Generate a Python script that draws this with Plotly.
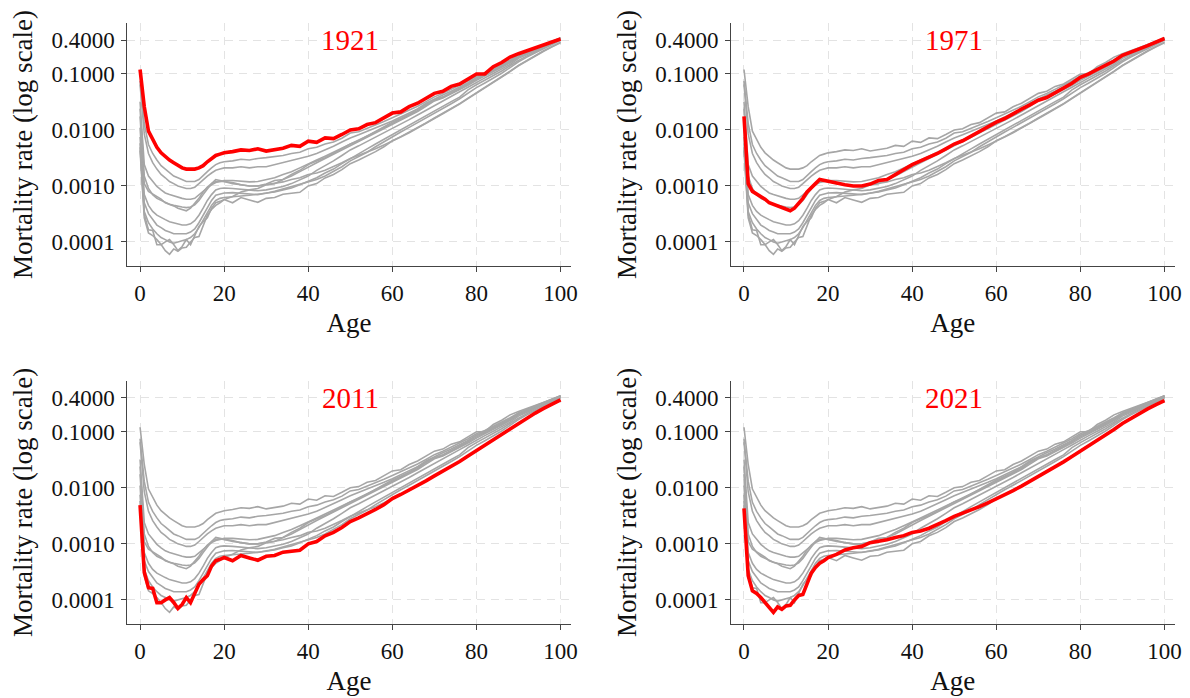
import math
import plotly.graph_objects as go

# ---------------- data ----------------
AGES = list(range(0, 21)) + list(range(22, 101, 2))

Q1921 = [0.12, 0.026, 0.0095, 0.0066, 0.0049, 0.0039, 0.0033, 0.0029, 0.0026, 0.0023, 0.0021,
         0.0020, 0.0020, 0.0020, 0.0021, 0.0023, 0.0027, 0.0031, 0.0035, 0.0037, 0.0039,
         0.0041, 0.0044, 0.0043, 0.0046, 0.0042, 0.0045, 0.0047, 0.0053, 0.0051, 0.0063,
         0.0060, 0.0072, 0.0070, 0.0083, 0.0100, 0.0105, 0.0125, 0.0135, 0.0165, 0.0200,
         0.0210, 0.0260, 0.0300, 0.0370, 0.0450, 0.0490, 0.0600, 0.0660, 0.0820, 0.1000,
         0.1000, 0.1350, 0.1600, 0.2000, 0.2300, 0.2600, 0.3000, 0.3400, 0.3800, 0.4200]
Q1931 = [0.075, 0.013, 0.0055, 0.0038, 0.0029, 0.0023, 0.0020, 0.0017, 0.0015, 0.0014, 0.0013,
         0.0012, 0.0012, 0.0012, 0.0013, 0.0015, 0.0018, 0.0021, 0.0024, 0.0026, 0.0027,
         0.0028, 0.0030, 0.0029, 0.0031, 0.0032, 0.0033, 0.0035, 0.0038, 0.0040, 0.0046,
         0.0049, 0.0056, 0.0061, 0.0071, 0.0088, 0.0093, 0.0106, 0.0121, 0.0142, 0.0165,
         0.0192, 0.0225, 0.0265, 0.0320, 0.0390, 0.0450, 0.0530, 0.0620, 0.0750, 0.0920,
         0.1050, 0.1250, 0.1480, 0.1780, 0.2150, 0.2500, 0.2900, 0.3350, 0.3850, 0.4400]
Q1941 = [0.065, 0.0085, 0.0038, 0.0026, 0.0020, 0.0016, 0.0014, 0.0012, 0.0011, 0.0010, 0.00095,
         0.0009, 0.0009, 0.00095, 0.0011, 0.0013, 0.0015, 0.0017, 0.0019, 0.0020, 0.0021,
         0.0021, 0.0022, 0.0021, 0.0022, 0.0022, 0.0024, 0.0026, 0.0028, 0.0031, 0.0034,
         0.0038, 0.0044, 0.0051, 0.0061, 0.0072, 0.0082, 0.0094, 0.0108, 0.0125, 0.0145,
         0.0170, 0.0200, 0.0238, 0.0300, 0.0360, 0.0420, 0.0490, 0.0580, 0.0700, 0.0860,
         0.0990, 0.1180, 0.1400, 0.1680, 0.2100, 0.2400, 0.2800, 0.3250, 0.3800, 0.4400]
Q1951 = [0.032, 0.0024, 0.0015, 0.0012, 0.00098, 0.00085, 0.00075, 0.0007, 0.00066, 0.00063, 0.0006,
         0.00058, 0.00058, 0.0006, 0.00068, 0.0008, 0.00092, 0.00105, 0.00115, 0.0012, 0.00125,
         0.00125, 0.0012, 0.00118, 0.0012, 0.0013, 0.0014, 0.0016, 0.0018, 0.0021, 0.0025,
         0.0029, 0.0034, 0.0040, 0.0047, 0.0056, 0.0066, 0.0078, 0.0092, 0.0110, 0.0130,
         0.0155, 0.0185, 0.0220, 0.0285, 0.0340, 0.0390, 0.0460, 0.0540, 0.0660, 0.0810,
         0.0950, 0.1130, 0.1350, 0.1620, 0.2050, 0.2350, 0.2750, 0.3200, 0.3750, 0.4300]
Q1961 = [0.024, 0.0015, 0.0009, 0.0007, 0.0006, 0.00055, 0.0005, 0.00047, 0.00045, 0.00043, 0.00042,
         0.00041, 0.00042, 0.00046, 0.00055, 0.0007, 0.0009, 0.0011, 0.0012, 0.00122, 0.0012,
         0.0011, 0.00105, 0.0010, 0.0010, 0.00105, 0.0011, 0.0013, 0.0015, 0.0018, 0.0022,
         0.0026, 0.0031, 0.0037, 0.0044, 0.0053, 0.0063, 0.0075, 0.0089, 0.0106, 0.0126,
         0.0150, 0.0178, 0.0212, 0.0265, 0.0330, 0.0370, 0.0440, 0.0520, 0.0630, 0.0770,
         0.0910, 0.1090, 0.1310, 0.1580, 0.2000, 0.2300, 0.2700, 0.3150, 0.3700, 0.4300]
Q1971 = [0.0175, 0.0011, 0.0008, 0.00072, 0.00064, 0.00058, 0.0005, 0.00047, 0.00044, 0.0004, 0.00038,
         0.00036, 0.0004, 0.00048, 0.0006, 0.00078, 0.00095, 0.0011, 0.0013, 0.00125, 0.0012,
         0.00115, 0.00105, 0.0010, 0.0010, 0.00108, 0.00125, 0.0013, 0.0016, 0.0019, 0.0024,
         0.0028, 0.0032, 0.0038, 0.0046, 0.0056, 0.0064, 0.0078, 0.0093, 0.0112, 0.0138,
         0.0160, 0.0190, 0.0235, 0.0280, 0.0340, 0.0380, 0.0460, 0.0550, 0.0680, 0.0870,
         0.1000, 0.1200, 0.1450, 0.1700, 0.2150, 0.2500, 0.2800, 0.3200, 0.3700, 0.4300]
Q1981 = [0.011, 0.0007, 0.00045, 0.00035, 0.0003, 0.00027, 0.00025, 0.00023, 0.00022, 0.00021, 0.0002,
         0.0002, 0.00021, 0.00024, 0.0003, 0.0004, 0.00055, 0.0007, 0.00085, 0.0009, 0.00092,
         0.0009, 0.00088, 0.00085, 0.00082, 0.00085, 0.0009, 0.00098, 0.0011, 0.0013, 0.0015,
         0.0019, 0.0023, 0.0028, 0.0035, 0.0044, 0.0052, 0.0062, 0.0074, 0.0088, 0.0105,
         0.0127, 0.0153, 0.0185, 0.0225, 0.0275, 0.0330, 0.0400, 0.0480, 0.0580, 0.0710,
         0.0850, 0.1020, 0.1230, 0.1480, 0.1900, 0.2200, 0.2600, 0.3050, 0.3600, 0.4200]
Q1991 = [0.0075, 0.0005, 0.00032, 0.00025, 0.0002, 0.00018, 0.00016, 0.00015, 0.00014, 0.00014, 0.00014,
         0.00014, 0.00015, 0.00017, 0.00022, 0.0003, 0.0004, 0.00055, 0.00068, 0.00072, 0.00075,
         0.00076, 0.00074, 0.00072, 0.0007, 0.00075, 0.00078, 0.00085, 0.00092, 0.00105, 0.0012,
         0.0014, 0.0017, 0.0020, 0.0025, 0.0031, 0.0038, 0.0046, 0.0056, 0.0068, 0.0085,
         0.0102, 0.0124, 0.0150, 0.0182, 0.0220, 0.0265, 0.0320, 0.0385, 0.0520, 0.0640,
         0.0770, 0.0930, 0.1130, 0.1400, 0.1750, 0.2100, 0.2500, 0.2950, 0.3500, 0.4100]
Q2001 = [0.0058, 0.00035, 0.00022, 0.00017, 0.00014, 0.00012, 0.00011, 0.0001, 0.000095, 0.0001, 0.000105,
         0.00011, 0.00012, 0.00014, 0.00018, 0.00024, 0.00033, 0.00045, 0.00055, 0.0006, 0.00062,
         0.00063, 0.00066, 0.00068, 0.0007, 0.00074, 0.0008, 0.00088, 0.00096, 0.00105, 0.00118,
         0.0013, 0.0015, 0.0018, 0.0022, 0.0028, 0.0033, 0.0040, 0.0050, 0.0062, 0.0076,
         0.0092, 0.0111, 0.0134, 0.0163, 0.0200, 0.0242, 0.0294, 0.0360, 0.0455, 0.0570,
         0.0690, 0.0840, 0.1030, 0.1300, 0.1650, 0.2000, 0.2400, 0.2850, 0.3350, 0.4000]
Q2011 = [0.0049, 0.00031, 0.000165, 0.00016, 0.000089, 0.000089, 0.0001, 0.00011, 0.00009, 0.00007, 0.000083,
         0.00011, 0.000089, 0.000135, 0.00019, 0.00023, 0.00027, 0.0004, 0.0005, 0.00053, 0.00057,
         0.0005, 0.00062, 0.00056, 0.00051, 0.0006, 0.00062, 0.00071, 0.00075, 0.00077, 0.0010,
         0.0011, 0.00139, 0.0016, 0.00195, 0.0025, 0.0029, 0.0034, 0.0041, 0.0050, 0.0064,
         0.0076, 0.0091, 0.0109, 0.0133, 0.0163, 0.0198, 0.0240, 0.0295, 0.0370, 0.0460,
         0.0570, 0.0710, 0.0890, 0.1120, 0.1420, 0.1750, 0.2150, 0.2600, 0.3100, 0.3700]
Q2021 = [0.0043, 0.00027, 0.000145, 0.00013, 0.00011, 0.00009, 0.00007, 0.00006, 0.000075, 0.000068, 0.000078,
         0.00008, 0.0001, 0.00012, 0.000125, 0.0002, 0.0003, 0.00038, 0.00045, 0.0005, 0.00057,
         0.00065, 0.00078, 0.00085, 0.0009, 0.00105, 0.0011, 0.00118, 0.0013, 0.0014, 0.0016,
         0.0017, 0.0019, 0.0022, 0.0026, 0.0031, 0.0035, 0.0040, 0.0046, 0.0054, 0.0063,
         0.0075, 0.0089, 0.0107, 0.0130, 0.0160, 0.0195, 0.0236, 0.0290, 0.0362, 0.0450,
         0.0560, 0.0700, 0.0880, 0.1100, 0.1400, 0.1720, 0.2100, 0.2550, 0.3050, 0.3600]

SERIES = {"1921": Q1921, "1931": Q1931, "1941": Q1941, "1951": Q1951, "1961": Q1961,
          "1971": Q1971, "1981": Q1981, "1991": Q1991, "2001": Q2001, "2011": Q2011,
          "2021": Q2021}
GRAY_YEARS = ["1921", "1931", "1941", "1951", "1961", "1971", "1981", "1991", "2001",
              "2011", "2021"]
PANEL_YEARS = ["1921", "1971", "2011", "2021"]

Y_TICKVALS = [0.0001, 0.001, 0.01, 0.1, 0.4]
Y_TICKTEXT = ["0.0001", "0.0010", "0.0100", "0.1000", "0.4000"]
X_TICKVALS = [0, 20, 40, 60, 80, 100]

for k, v in SERIES.items():
    if len(v) != len(AGES):
        raise ValueError(f"{k}: {len(v)} values vs {len(AGES)} ages")

# ---------------- figure ----------------
W, H = 1190, 698
FONT = "Liberation Serif, Times New Roman, serif"
GRAY = "#a6a6a6"
RED = "#ff0000"
AXC = "#444444"
GRIDC = "#e3e3e3"
TXT = "#111111"

# pixel boxes of the four panels (left, right, top, bottom)
boxes = [(128, 574, 23, 266), (735.5, 1181.5, 23, 266),
         (128, 574, 380.7, 624), (735.5, 1181.5, 380.7, 624)]

fig = go.Figure()
layout = dict(width=W, height=H, margin=dict(l=0, r=0, t=0, b=0),
              paper_bgcolor="white", plot_bgcolor="white", showlegend=False,
              font=dict(family=FONT, color=TXT), annotations=[])

for i, (year, (l, r, t, b)) in enumerate(zip(PANEL_YEARS, boxes), start=1):
    xa = "x" if i == 1 else f"x{i}"
    ya = "y" if i == 1 else f"y{i}"
    for gy in GRAY_YEARS:
        if gy == year:
            continue
        fig.add_trace(go.Scatter(x=AGES, y=SERIES[gy], mode="lines", name=gy,
                                 line=dict(color=GRAY, width=1.6),
                                 xaxis=xa, yaxis=ya, hoverinfo="skip"))
    fig.add_trace(go.Scatter(x=AGES, y=SERIES[year], mode="lines", name=year,
                             line=dict(color=RED, width=3.6),
                             xaxis=xa, yaxis=ya))
    xkey = "xaxis" if i == 1 else f"xaxis{i}"
    ykey = "yaxis" if i == 1 else f"yaxis{i}"
    layout[xkey] = dict(domain=[l / W, r / W], anchor=ya, range=[-3.05, 102.4],
                        tickmode="array", tickvals=X_TICKVALS,
                        showline=True, linecolor=AXC, linewidth=1,
                        ticks="outside", ticklen=5, tickcolor=AXC,
                        tickfont=dict(size=23, family=FONT, color=TXT),
                        ticklabelstandoff=1,
                        showgrid=True, gridcolor=GRIDC, griddash="8px,6px", gridwidth=1,
                        zeroline=False,
                        title=dict(text="Age", font=dict(size=27, family=FONT, color=TXT),
                                   standoff=8))
    layout[ykey] = dict(domain=[1 - b / H, 1 - t / H], anchor=xa, type="log",
                        range=[-4.43, -0.09],
                        tickmode="array", tickvals=Y_TICKVALS, ticktext=Y_TICKTEXT,
                        showline=True, linecolor=AXC, linewidth=1,
                        ticks="outside", ticklen=5, tickcolor=AXC,
                        tickfont=dict(size=23, family=FONT, color=TXT),
                        ticklabelstandoff=2,
                        showgrid=True, gridcolor=GRIDC, griddash="8px,6px", gridwidth=1,
                        zeroline=False,
                        title=dict(text="Mortality rate (log scale)",
                                   font=dict(size=27, family=FONT, color=TXT),
                                   standoff=10))
    layout["annotations"].append(dict(text=year, x=50, y=math.log10(0.4), xref=xa, yref=ya,
                                      showarrow=False, xanchor="center", yanchor="middle",
                                      font=dict(size=29, family=FONT, color=RED)))

fig.update_layout(**layout)
fig.write_html("out.html",
               config={"displayModeBar": False},
               post_script="document.body.style.margin='0px';document.body.style.overflow='hidden';")
